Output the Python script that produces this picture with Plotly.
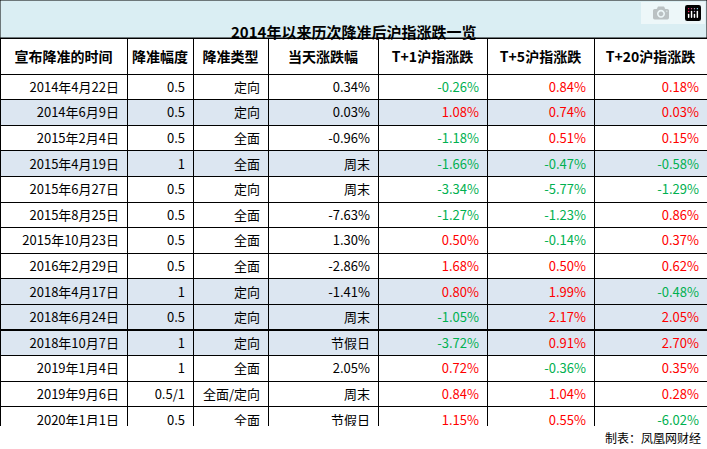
import plotly.graph_objects as go

title = '2014年以来历次降准后沪指涨跌一览'
headers = ['宣布降准的时间', '降准幅度', '降准类型', '当天涨跌幅', 'T+1沪指涨跌', 'T+5沪指涨跌', 'T+20沪指涨跌']
dates = ['2014年4月22日', '2014年6月9日', '2015年2月4日', '2015年4月19日', '2015年6月27日', '2015年8月25日',
         '2015年10月23日', '2016年2月29日', '2018年4月17日', '2018年6月24日', '2018年10月7日', '2019年1月4日',
         '2019年9月6日', '2020年1月1日']
cut = ['0.5', '0.5', '0.5', '1', '0.5', '0.5', '0.5', '0.5', '1', '0.5', '1', '1', '0.5/1', '0.5']
kind = ['定向', '定向', '全面', '全面', '定向', '全面', '全面', '全面', '定向', '定向', '定向', '全面', '全面/定向', '全面']
day0 = ['0.34%', '0.03%', '-0.96%', '周末', '周末', '-7.63%', '1.30%', '-2.86%', '-1.41%', '周末', '节假日', '2.05%', '周末', '节假日']
t1 = [-0.26, 1.08, -1.18, -1.66, -3.34, -1.27, 0.50, 1.68, 0.80, -1.05, -3.72, 0.72, 0.84, 1.15]
t5 = [0.84, 0.74, 0.51, -0.47, -5.77, -1.23, -0.14, 0.50, 1.99, 2.17, 0.91, -0.36, 1.04, 0.55]
t20 = [0.18, 0.03, 0.15, -0.58, -1.29, 0.86, 0.37, 0.62, -0.48, 2.05, 2.70, 0.35, 0.28, -6.02]
shaded = ['2014年6月9日', '2015年4月19日', '2018年4月17日', '2018年6月24日', '2018年10月7日']

RED, GREEN = '#FF0000', '#00B050'
row_fill = ['#DCE6F1' if d in shaded else 'white' for d in dates]


def fmt(vals):
    return ['%.2f%%' % v for v in vals]


def col_color(vals):
    return [RED if v >= 0 else GREEN for v in vals]


black = ['black'] * len(dates)
font_colors = [black, black, black, black, col_color(t1), col_color(t5), col_color(t20)]

fig = go.Figure(go.Table(
    domain=dict(x=[0, 1], y=[0.05, 1 - 38 / 449]),
    columnwidth=[127, 66, 75, 110, 109, 107, 113],
    header=dict(values=['<b>%s</b>' % h for h in headers], height=26, align='center',
                fill_color='white', line_color='black',
                font=dict(family='Noto Sans CJK SC', size=14, color='black')),
    cells=dict(values=[dates, cut, kind, day0, fmt(t1), fmt(t5), fmt(t20)], height=25.6, align='right',
               fill_color=[row_fill] * 7, line_color='black',
               font=dict(family='Noto Sans CJK SC', size=13, color=font_colors)),
))

fig.add_shape(type='rect', xref='paper', yref='paper', x0=0, x1=1, y0=1 - 38 / 449, y1=1,
              fillcolor='#DAEEF3', line=dict(color='black', width=1), layer='below')
fig.add_annotation(x=0.5, y=1 - 19 / 449, xref='paper', yref='paper', text='<b>%s</b>' % title,
                   showarrow=False, font=dict(family='Noto Sans CJK SC', size=15, color='black'))
fig.add_annotation(x=0.995, y=0.003, xref='paper', yref='paper', xanchor='right', yanchor='bottom',
                   text='制表：凤凰网财经', showarrow=False,
                   font=dict(family='Noto Sans CJK SC', size=12, color='black'))

fig.update_layout(width=707, height=449, margin=dict(l=0, r=0, t=0, b=0), paper_bgcolor='white')
fig.write_html('out.html')

# drop the default body margin so the figure fills the window
with open('out.html', encoding='utf-8') as f:
    page = f.read()
page = page.replace('<head>', '<head><style>body{margin:0;overflow:hidden}</style>', 1)
with open('out.html', 'w', encoding='utf-8') as f:
    f.write(page)
